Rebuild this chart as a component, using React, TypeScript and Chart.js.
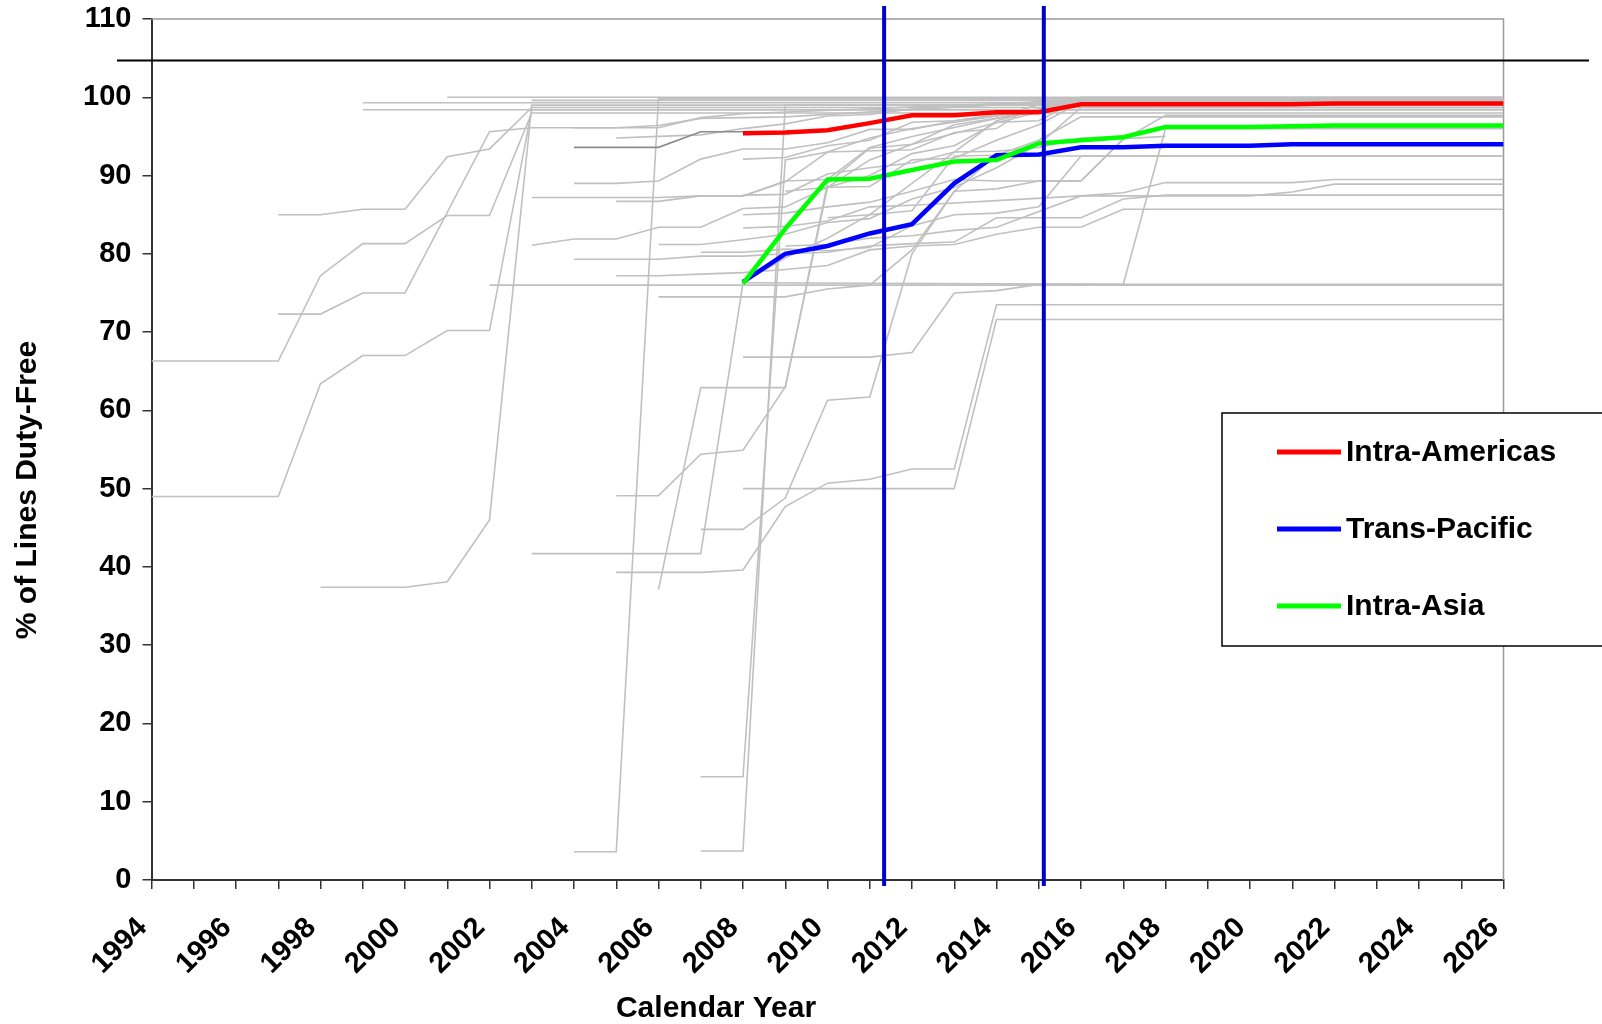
import React, { useEffect, useRef } from "react";
import { Chart, registerables } from "chart.js";

Chart.register(...registerables);

// ---------- data ----------
const yearMin = 1994;
const yearMax = 2026;
const yTicksMax = 110;

const seriesYears = [2008, 2009, 2010, 2011, 2012, 2013, 2014, 2015, 2016, 2017, 2018, 2019, 2020, 2021, 2022, 2023, 2024, 2025, 2026];
const intraAmericas = [95.4, 95.5, 95.8, 96.7, 97.7, 97.7, 98.1, 98.1, 99.1, 99.1, 99.1, 99.1, 99.1, 99.1, 99.2, 99.2, 99.2, 99.2, 99.2];
const transPacific = [76.4, 80.0, 81.0, 82.6, 83.8, 89.0, 92.6, 92.7, 93.6, 93.6, 93.8, 93.8, 93.8, 94.0, 94.0, 94.0, 94.0, 94.0, 94.0];
const intraAsia = [76.2, 83.2, 89.5, 89.6, 90.7, 91.8, 92.0, 94.1, 94.5, 94.9, 96.2, 96.2, 96.2, 96.3, 96.4, 96.4, 96.4, 96.4, 96.4];

const seriesNames = ["Intra-Americas", "Trans-Pacific", "Intra-Asia"];
const seriesColors = ["#FF0000", "#0000FF", "#00FF00"];

const markerYears = [2011.34, 2015.12];
const ceilingValue = 104.7;

// individual agreements: [year, % duty-free] breakpoints
const agreements: number[][][] = [
  [[1994, 66.3], [1997, 66.3], [1998, 77.2], [1999, 81.3], [2000, 81.3], [2001, 84.9], [2002, 84.9], [2003, 98.0], [2026, 98.0]],
  [[1994, 49.0], [1997, 49.0], [1998, 63.4], [1999, 67.0], [2000, 67.0], [2001, 70.2], [2002, 70.2], [2003, 98.4], [2026, 98.4]],
  [[1997, 85.0], [1998, 85.0], [1999, 85.7], [2000, 85.7], [2001, 92.4], [2002, 93.4], [2003, 98.7], [2026, 98.7]],
  [[1997, 72.3], [1998, 72.3], [1999, 75.0], [2000, 75.0], [2002, 95.6], [2003, 96.1], [2006, 96.1], [2007, 97.4], [2008, 97.9], [2016, 99.6], [2026, 99.6]],
  [[1998, 37.4], [2000, 37.4], [2001, 38.1], [2002, 46.0], [2003, 99.0], [2026, 99.0]],
  [[1999, 99.3], [2026, 99.3]],
  [[1999, 98.4], [2026, 98.4]],
  [[2001, 100.0], [2026, 100.0]],
  [[2002, 76.0], [2026, 76.0]],
  [[2003, 99.6], [2026, 99.6]],
  [[2004, 89.0], [2005, 89.0], [2006, 89.3], [2007, 92.1], [2008, 93.4], [2009, 93.4], [2010, 94.2], [2011, 95.9], [2012, 95.9], [2013, 97.0], [2014, 97.6], [2015, 99.0], [2016, 99.8], [2026, 99.8]],
  [[2003, 87.2], [2006, 87.2], [2007, 87.4], [2008, 87.4], [2009, 89.2], [2010, 93.0], [2012, 93.3], [2013, 95.5], [2014, 96.0], [2015, 99.5], [2026, 99.5]],
  [[2005, 86.7], [2006, 86.7], [2007, 87.4], [2008, 87.4], [2009, 89.3], [2010, 89.5], [2011, 93.6], [2012, 95.0], [2016, 99.6], [2026, 99.6]],
  [[2003, 81.1], [2004, 81.9], [2005, 81.9], [2006, 83.4], [2007, 83.4], [2008, 85.8], [2009, 86.0], [2010, 88.5], [2011, 88.6], [2012, 92.0], [2013, 92.2], [2014, 94.5], [2015, 96.5], [2016, 99.4], [2026, 99.4]],
  [[2006, 81.2], [2007, 81.2], [2008, 81.8], [2009, 82.5], [2010, 84.0], [2011, 84.5], [2012, 87.0], [2013, 88.5], [2014, 91.0], [2015, 94.0], [2016, 98.7], [2026, 98.7]],
  [[2007, 80.2], [2008, 80.2], [2009, 80.6], [2010, 80.4], [2011, 80.8], [2012, 83.6], [2013, 85.0], [2014, 85.2], [2015, 86.0], [2016, 92.5], [2026, 92.5]],
  [[2004, 79.3], [2006, 79.3], [2007, 79.7], [2008, 79.7], [2009, 80.0], [2010, 80.2], [2011, 81.0], [2012, 81.3], [2013, 81.5], [2014, 84.6], [2016, 84.6], [2017, 87.0], [2018, 87.5], [2026, 87.5]],
  [[2005, 77.2], [2006, 77.2], [2007, 77.4], [2008, 77.6], [2009, 78.0], [2010, 78.5], [2011, 80.5], [2012, 81.0], [2013, 81.2], [2014, 82.5], [2015, 83.4], [2016, 83.4], [2017, 85.7], [2026, 85.7]],
  [[2006, 74.5], [2009, 74.5], [2010, 75.5], [2011, 76.0], [2012, 80.5], [2013, 88.0], [2014, 88.3], [2015, 89.3], [2016, 89.3], [2017, 94.7], [2018, 95.0]],
  [[2003, 41.7], [2007, 41.7], [2008, 76.3], [2009, 79.5], [2010, 82.0], [2011, 85.0], [2012, 89.0], [2013, 93.0], [2014, 97.0], [2016, 99.9], [2026, 99.9]],
  [[2004, 3.6], [2005, 3.6], [2006, 99.8], [2026, 99.8]],
  [[2007, 3.7], [2008, 3.7], [2009, 99.0], [2026, 99.0]],
  [[2007, 13.2], [2008, 13.2], [2009, 92.0], [2010, 93.0], [2011, 94.8], [2012, 96.0], [2016, 99.2], [2026, 99.2]],
  [[2005, 49.1], [2006, 49.1], [2007, 54.4], [2008, 54.9], [2009, 63.0], [2010, 88.5], [2011, 92.0], [2012, 94.0], [2013, 96.5], [2016, 99.0], [2026, 99.0]],
  [[2007, 44.8], [2008, 44.8], [2009, 48.8], [2010, 61.3], [2011, 61.7], [2012, 80.0], [2013, 88.0], [2014, 92.6], [2015, 94.5], [2016, 97.5], [2026, 97.5]],
  [[2008, 50.0], [2013, 50.0], [2014, 71.6], [2026, 71.6]],
  [[2005, 39.3], [2007, 39.3], [2008, 39.6], [2009, 47.7], [2010, 50.7], [2011, 51.2], [2012, 52.5], [2013, 52.5], [2014, 73.5], [2026, 73.5]],
  [[2006, 37.1], [2007, 62.9], [2009, 62.9], [2010, 89.0], [2011, 93.5], [2012, 94.0], [2016, 99.5], [2026, 99.5]],
  [[2008, 66.8], [2011, 66.8], [2012, 67.4], [2013, 75.0], [2014, 75.3], [2015, 76.1], [2026, 76.1]],
  [[2004, 96.1], [2005, 96.1], [2006, 96.4], [2007, 97.3], [2009, 97.5], [2016, 99.7], [2026, 99.7]],
  [[2005, 94.8], [2006, 95.0], [2007, 95.2], [2008, 96.0], [2009, 96.6], [2010, 97.6], [2011, 97.8], [2012, 98.5], [2016, 99.5], [2026, 99.5]],
  [[2008, 92.1], [2009, 92.3], [2010, 93.8], [2011, 94.5], [2012, 96.8], [2013, 97.0], [2014, 97.8], [2015, 98.5], [2016, 100.0], [2026, 100.0]],
  [[2008, 87.5], [2009, 87.6], [2010, 90.2], [2011, 91.0], [2012, 91.6], [2013, 93.0], [2014, 93.1], [2015, 93.6], [2016, 94.8], [2017, 95.0], [2018, 96.2], [2026, 96.2]],
  [[2008, 85.0], [2009, 85.2], [2010, 86.0], [2011, 86.6], [2012, 88.0], [2013, 89.5], [2014, 89.3], [2016, 89.3], [2017, 94.6], [2018, 97.7], [2026, 97.7]],
  [[2008, 83.3], [2009, 83.5], [2010, 84.2], [2011, 86.0], [2012, 86.2], [2013, 86.5], [2014, 86.8], [2016, 87.4], [2017, 87.8], [2018, 89.1], [2021, 89.1], [2022, 89.5], [2026, 89.5]],
  [[2009, 81.0], [2010, 81.2], [2011, 82.0], [2012, 82.3], [2013, 83.0], [2014, 83.4], [2016, 87.4], [2020, 87.4], [2021, 87.9], [2022, 88.9], [2026, 88.9]],
  [[2008, 76.3], [2017, 76.1], [2018, 96.0], [2026, 96.0]],
  [[2009, 88.0], [2010, 88.5], [2011, 90.0], [2012, 92.8], [2013, 93.8], [2014, 96.8], [2015, 97.0], [2016, 99.8], [2026, 99.8]],
  [[2010, 84.6], [2011, 85.0], [2012, 85.5], [2013, 92.5], [2014, 92.6], [2015, 92.5], [2026, 92.5]],
];
const darkAgreement: number[][] = [[2004, 93.6], [2006, 93.6], [2007, 95.6], [2008, 95.6]];

// ---------- styles ----------
const FONT = '"Liberation Sans", Arial, sans-serif';

export default function App() {
  const ref = useRef<HTMLCanvasElement | null>(null);

  useEffect(() => {
    document.body.style.margin = "0";
    const canvas = ref.current;
    if (!canvas) return;

    const toPts = (arr: number[][]) => arr.map(([x, y]) => ({ x, y }));

    const datasets: any[] = [];
    agreements.forEach((a) => {
      datasets.push({
        data: toPts(a),
        borderColor: "#C0C0C0",
        borderWidth: 1.6,
        pointRadius: 0,
        tension: 0,
        order: 5,
      });
    });
    datasets.push({
      data: toPts(darkAgreement),
      borderColor: "#8C8C8C",
      borderWidth: 1.6,
      pointRadius: 0,
      order: 4,
    });
    const colored = [intraAmericas, transPacific, intraAsia];
    colored.forEach((vals, i) => {
      datasets.push({
        label: seriesNames[i],
        data: seriesYears.map((x, k) => ({ x, y: vals[k] })),
        borderColor: seriesColors[i],
        borderWidth: 4.5,
        pointRadius: 0,
        tension: 0,
        order: i === 0 ? 1 : i === 2 ? 2 : 3,
      });
    });

    const overlay = {
      id: "overlay",
      beforeDatasetsDraw(chart: any) {
        const { ctx, chartArea } = chart;
        ctx.save();
        ctx.strokeStyle = "#9A9A9A";
        ctx.lineWidth = 1.5;
        ctx.beginPath();
        ctx.moveTo(chartArea.left, chartArea.top);
        ctx.lineTo(chartArea.right, chartArea.top);
        ctx.lineTo(chartArea.right, chartArea.bottom);
        ctx.stroke();
        ctx.restore();
      },
      afterDatasetsDraw(chart: any) {
        const { ctx, scales } = chart;
        const xs = scales.x;
        const ys = scales.y;
        ctx.save();
        const yl = ys.getPixelForValue(ceilingValue);
        ctx.strokeStyle = "#000000";
        ctx.lineWidth = 2;
        ctx.beginPath();
        ctx.moveTo(117, yl);
        ctx.lineTo(1589, yl);
        ctx.stroke();
        ctx.strokeStyle = "#0000CC";
        ctx.lineWidth = 4;
        markerYears.forEach((yr) => {
          const xp = xs.getPixelForValue(yr);
          ctx.beginPath();
          ctx.moveTo(xp, 6);
          ctx.lineTo(xp, 886);
          ctx.stroke();
        });
        ctx.restore();
      },
      afterDraw(chart: any) {
        const { ctx } = chart;
        ctx.save();
        ctx.fillStyle = "#FFFFFF";
        ctx.fillRect(1222, 413, 400, 233);
        ctx.strokeStyle = "#000000";
        ctx.lineWidth = 1.5;
        ctx.strokeRect(1222, 413, 400, 233);
        const rows = [452, 529, 606];
        ctx.font = `bold 30px ${FONT}`;
        ctx.textBaseline = "middle";
        ctx.textAlign = "left";
        rows.forEach((ry, i) => {
          ctx.strokeStyle = seriesColors[i];
          ctx.lineWidth = 5;
          ctx.beginPath();
          ctx.moveTo(1277, ry);
          ctx.lineTo(1341, ry);
          ctx.stroke();
          ctx.fillStyle = "#000000";
          ctx.fillText(seriesNames[i], 1346, ry + 1);
        });
        ctx.fillStyle = "#000000";
        ctx.font = `bold 30px ${FONT}`;
        ctx.textAlign = "center";
        ctx.textBaseline = "middle";
        ctx.fillText("Calendar Year", 716, 1009);
        ctx.translate(28, 490);
        ctx.rotate(-Math.PI / 2);
        ctx.fillText("% of Lines Duty-Free", 0, 0);
        ctx.restore();
      },
    };

    const chart = new Chart(canvas, {
      type: "line",
      data: { datasets },
      options: {
        animation: false,
        responsive: false,
        maintainAspectRatio: false,
        layout: { padding: { top: 19, right: 98.5, left: 0, bottom: 0 } },
        plugins: { legend: { display: false }, tooltip: { enabled: false } },
        elements: { line: { borderCapStyle: "butt", borderJoinStyle: "miter" } },
        scales: {
          x: {
            type: "linear",
            min: yearMin,
            max: yearMax,
            afterFit: (s: any) => {
              s.height = 144;
              s.paddingLeft = 0;
              s.paddingRight = 0;
            },
            ticks: {
              stepSize: 1,
              autoSkip: false,
              maxRotation: 45,
              minRotation: 45,
              padding: 22,
              labelOffset: -9,
              color: "#000000",
              font: { family: FONT, size: 29, weight: "bold" },
              callback: (v: any) => (Number(v) % 2 === 0 ? String(v) : ""),
            },
            grid: { drawOnChartArea: false, drawTicks: true, tickLength: 9, color: "#333333", lineWidth: 1.5 },
            border: { display: true, color: "#333333", width: 2 },
          },
          y: {
            type: "linear",
            min: 0,
            max: yTicksMax,
            afterFit: (s: any) => {
              s.width = 151.5;
              s.paddingTop = 0;
              s.paddingBottom = 0;
            },
            ticks: {
              stepSize: 10,
              padding: 11,
              color: "#000000",
              font: { family: FONT, size: 29, weight: "bold" },
            },
            grid: { drawOnChartArea: false, drawTicks: true, tickLength: 9, color: "#333333", lineWidth: 1.5 },
            border: { display: true, color: "#333333", width: 2 },
          },
        },
      },
      plugins: [overlay],
    });

    return () => chart.destroy();
  }, []);

  return (
    <div style={{ width: 1602, height: 1024, position: "relative", background: "#FFFFFF" }}>
      <canvas ref={ref} width={1602} height={1024} style={{ display: "block", width: 1602, height: 1024 }} />
    </div>
  );
}
